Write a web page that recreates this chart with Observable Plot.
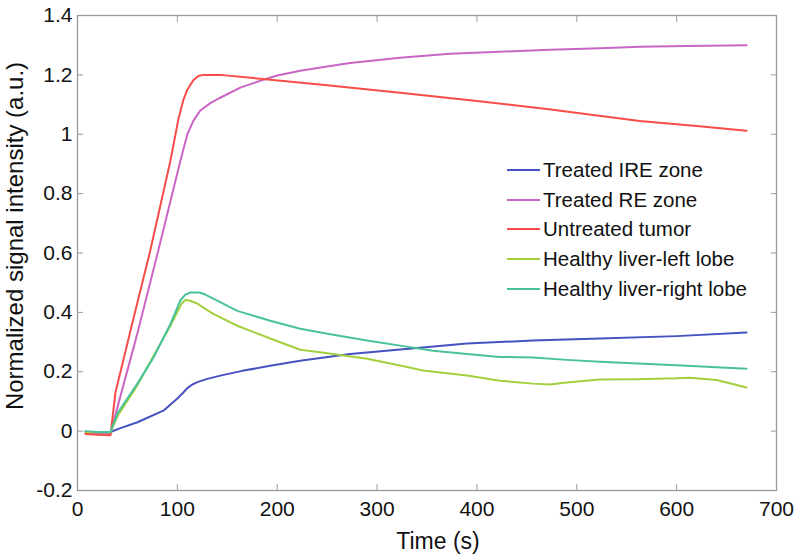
<!DOCTYPE html>
<html>
<head>
<meta charset="utf-8">
<script src="https://cdn.jsdelivr.net/npm/d3@7"></script>
<script src="https://cdn.jsdelivr.net/npm/@observablehq/plot@0.6"></script>
<style>
  html, body { margin: 0; padding: 0; background: #fff; }
  #wrap { position: relative; width: 800px; height: 560px; font-family: "Liberation Sans", Arial, sans-serif; color: #111; }
  #ylabel { position: absolute; left: 15px; top: 236px; transform: translate(-50%, -50%) rotate(-90deg); white-space: nowrap; font-size: 24px; line-height: 24px; }
  #xlabel { position: absolute; left: 438px; top: 530px; transform: translateX(-50%); white-space: nowrap; font-size: 23px; line-height: 23px; }
  #legend { position: absolute; left: 507px; top: 155px; font-size: 20.5px; }
  .row { display: flex; align-items: center; height: 29.8px; white-space: nowrap; }
  .sw { display: inline-block; width: 33px; height: 2px; margin-right: 3px; }
</style>
</head>
<body>
<div id="wrap">
  <div id="chart"></div>
  <div id="ylabel">Normalized signal intensity (a.u.)</div>
  <div id="xlabel">Time (s)</div>
  <div id="legend"></div>
</div>
<script>
// ---- data ----
const seriesNames = ["Treated IRE zone", "Treated RE zone", "Untreated tumor", "Healthy liver-left lobe", "Healthy liver-right lobe"];
const seriesColors = ["#4552c0", "#c965c4", "#f84c48", "#a2cf3c", "#48c29c"];

const ireT = [8, 20, 33, 43, 60, 86, 100, 106, 110, 115, 120, 130, 143, 165, 193, 223, 273, 340, 390, 456, 523, 600, 670];
const ireV = [-0.002, -0.005, -0.003, 0.01, 0.03, 0.069, 0.11, 0.13, 0.145, 0.157, 0.165, 0.176, 0.187, 0.203, 0.22, 0.237, 0.26, 0.28, 0.295, 0.305, 0.312, 0.32, 0.332];

const reT = [8, 20, 33, 40, 60, 81, 103, 110, 116, 123, 133, 143, 163, 183, 200, 223, 250, 273, 323, 373, 423, 473, 523, 563, 610, 670];
const reV = [-0.005, -0.008, -0.008, 0.08, 0.33, 0.61, 0.91, 1.0, 1.045, 1.08, 1.105, 1.123, 1.157, 1.18, 1.198, 1.214, 1.228, 1.24, 1.258, 1.271, 1.278, 1.285, 1.29, 1.295, 1.297, 1.3];

const tumT = [8, 20, 33, 38, 55, 73, 93, 101, 106, 110, 116, 121, 126, 143, 183, 250, 323, 400, 470, 563, 620, 670];
const tumV = [-0.01, -0.012, -0.014, 0.13, 0.365, 0.61, 0.91, 1.05, 1.115, 1.15, 1.182, 1.196, 1.2, 1.2, 1.187, 1.165, 1.14, 1.112, 1.085, 1.045, 1.028, 1.012];

const leftT = [8, 20, 33, 40, 60, 93, 104, 108, 112, 120, 126, 136, 160, 193, 223, 256, 290, 323, 346, 390, 423, 456, 473, 490, 523, 560, 600, 613, 640, 670];
const leftV = [-0.003, -0.004, -0.004, 0.05, 0.155, 0.355, 0.428, 0.442, 0.44, 0.43, 0.416, 0.395, 0.355, 0.312, 0.274, 0.26, 0.244, 0.221, 0.204, 0.187, 0.17, 0.16, 0.157, 0.164, 0.174, 0.175, 0.178, 0.18, 0.172, 0.147];

const rightT = [8, 20, 33, 40, 60, 76, 93, 103, 108, 113, 122, 128, 136, 160, 193, 223, 256, 290, 323, 356, 390, 423, 456, 490, 523, 600, 670];
const rightV = [0.0, -0.003, -0.003, 0.06, 0.16, 0.247, 0.36, 0.44, 0.46, 0.467, 0.467, 0.46, 0.446, 0.405, 0.372, 0.345, 0.325, 0.305, 0.288, 0.271, 0.26, 0.25, 0.248, 0.24, 0.234, 0.222, 0.21];

const xTicks = [0, 100, 200, 300, 400, 500, 600, 700];
const xTickLabels = ["0", "100", "200", "300", "400", "500", "600", "700"];
const yTicks = [-0.2, 0, 0.2, 0.4, 0.6, 0.8, 1, 1.2, 1.4];
const yTickLabels = ["-0.2", "0", "0.2", "0.4", "0.6", "0.8", "1", "1.2", "1.4"];

// ---- build table ----
const seriesT = [ireT, reT, tumT, leftT, rightT];
const seriesV = [ireV, reV, tumV, leftV, rightV];
const rows = [];
seriesNames.forEach((name, i) => {
  seriesT[i].forEach((t, j) => rows.push({series: name, t, v: seriesV[i][j]}));
});

const font = "Liberation Sans, Arial, sans-serif";
const tickGray = "#9a9a9a";

const chart = Plot.plot({
  width: 800,
  height: 560,
  marginLeft: 77,
  marginRight: 24,
  marginTop: 15,
  marginBottom: 70,
  style: {fontFamily: font, background: "white", color: "#111"},
  x: {domain: [0, 700]},
  y: {domain: [-0.2, 1.4]},
  color: {domain: seriesNames, range: seriesColors},
  marks: [
    Plot.frame({stroke: tickGray, strokeWidth: 1.3}),
    Plot.axisX({ticks: xTicks, tickSize: -6, tickPadding: 17, fontSize: 21, stroke: tickGray, fill: "#111",
      tickFormat: d => xTickLabels[xTicks.indexOf(d)], label: null}),
    Plot.axisX({anchor: "top", ticks: xTicks, tickSize: -6, stroke: tickGray, tickFormat: () => "", label: null}),
    Plot.axisY({ticks: yTicks, tickSize: -6, tickPadding: 11, fontSize: 21, stroke: tickGray, fill: "#111",
      tickFormat: d => yTickLabels[yTicks.findIndex(v => Math.abs(v - d) < 1e-9)], label: null}),
    Plot.axisY({anchor: "right", ticks: yTicks, tickSize: -6, stroke: tickGray, tickFormat: () => "", label: null}),
    Plot.line(rows, {x: "t", y: "v", z: "series", stroke: "series", strokeWidth: 2, curve: "linear", strokeLinejoin: "round"})
  ]
});
document.getElementById("chart").appendChild(chart);

// ---- legend ----
const legend = document.getElementById("legend");
seriesNames.forEach((name, i) => {
  const row = document.createElement("div");
  row.className = "row";
  const sw = document.createElement("span");
  sw.className = "sw";
  sw.style.background = seriesColors[i];
  const tx = document.createElement("span");
  tx.textContent = name;
  row.appendChild(sw);
  row.appendChild(tx);
  legend.appendChild(row);
});
</script>
</body>
</html>
